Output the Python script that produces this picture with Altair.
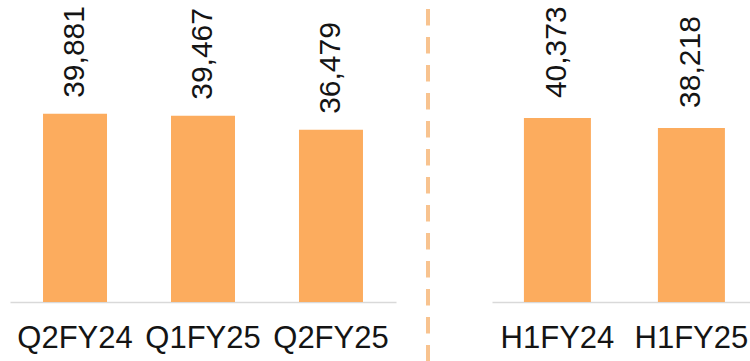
import altair as alt
import pandas as pd

# Quarterly figures (left group) and half-year figures (right group)
quarter_periods = ["Q2FY24", "Q1FY25", "Q2FY25"]
quarter_values = [39881, 39467, 36479]

half_periods = ["H1FY24", "H1FY25"]
half_values = [40373, 38218]

BAR_COLOR = "#FCAC5E"
DIVIDER_COLOR = "#F8C38F"
TEXT_COLOR = "#141414"
FONT = "Liberation Sans"

quarters = pd.DataFrame({"period": quarter_periods, "value": quarter_values})
halves = pd.DataFrame({"period": half_periods, "value": half_values})


def axis_style():
    return alt.Axis(
        orient="bottom",
        title=None,
        labelAngle=0,
        labelFont=FONT,
        labelFontSize=31,
        labelColor=TEXT_COLOR,
        labelPadding=21,
        ticks=False,
        tickSize=0,
        domainColor="#D9D9D9",
        domainWidth=1.5,
        grid=False,
    )


def group(df, periods, x_range, pad_outer, align, y_max, label_gap):
    x = alt.X(
        "period:N",
        sort=periods,
        scale=alt.Scale(range=x_range, paddingInner=0.5, paddingOuter=pad_outer, align=align),
        axis=axis_style(),
    )
    y = alt.Y("value:Q", scale=alt.Scale(domain=[0, y_max]), axis=None)
    base = alt.Chart(df).encode(x=x, y=y)
    bars = base.mark_bar(color=BAR_COLOR)
    labels = base.mark_text(
        angle=270,
        align="left",
        baseline="middle",
        dx=label_gap,
        font=FONT,
        fontSize=30,
        color=TEXT_COLOR,
    ).encode(text=alt.Text("value:Q", format=","))
    return alt.layer(bars, labels)


left = group(quarters, quarter_periods, [10, 396], 0.258, 0.5, 64000, 16)
right = group(halves, half_periods, [492, 750], 0.2127, 0.56, 66300, 20)

# Dashed separator between the quarterly and half-year groups
divider = alt.Chart(pd.DataFrame({"sep": [1]})).mark_rule(
    color=DIVIDER_COLOR,
    strokeWidth=4,
    strokeDash=[16.5, 11.5],
    strokeDashOffset=19,
).encode(x=alt.value(428), y=alt.value(0), y2=alt.value(361))

chart = (
    alt.layer(left, right, divider)
    .resolve_scale(x="independent", y="independent")
    .resolve_axis(x="independent")
    .properties(
        width=750,
        height=302,
        autosize=alt.AutoSizeParams(type="none"),
        padding={"left": 0, "right": 0, "top": 0, "bottom": 59},
        background="white",
    )
    .configure_view(stroke=None)
)

chart.save("out.html", embed_options={"renderer": "svg", "actions": False})
